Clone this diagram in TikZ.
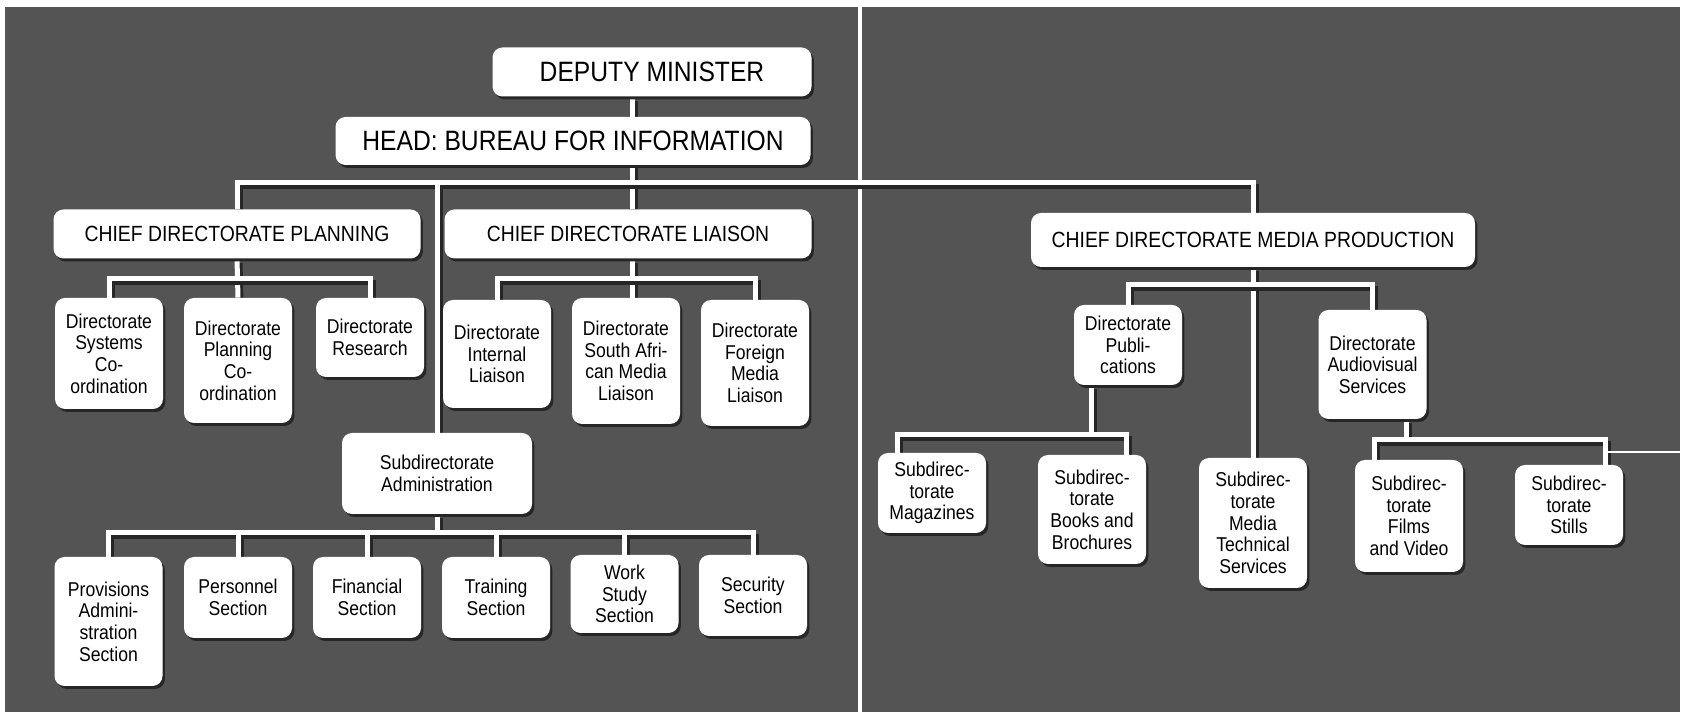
\documentclass[tikz,border=0pt]{standalone}
\usepackage{fontspec}
\setmainfont{Liberation Sans}[FakeStretch=0.88]
\usepackage{tikz}
\pgfdeclarelayer{bg}
\pgfdeclarelayer{lines}
\pgfsetlayers{bg,lines,main}
\definecolor{boardgray}{RGB}{84,84,84}

\tikzset{
  card/.style={fill=white, rounded corners=5pt, align=center, inner sep=2pt,
    preaction={fill=black!85, transform canvas={shift={(1.2pt,-1.5pt)}}}},
  topcard/.style={card, font=\fontsize{14}{16}\selectfont},
  chiefcard/.style={card, font=\fontsize{11}{13}\selectfont},
  unitcard/.style={card, minimum width=54pt, font=\fontsize{10}{10.8}\selectfont},
  link/.style={draw=white, line width=2.5pt,
    preaction={draw=black!85, line width=2.5pt, transform canvas={shift={(1.5pt,-2pt)}}}},
}

\begin{document}
\begin{tikzpicture}[x=0.5pt, y=-0.5pt]
\useasboundingbox (0,0) rectangle (1682,715);
\begin{pgfonlayer}{bg}
\fill[boardgray] (5,7) rectangle (1680,712);
\fill[white] (858,0) rectangle (862,715);
\end{pgfonlayer}

% top of the chart
\node[topcard, minimum width=159.5pt, minimum height=24.5pt](dm) at (652,72) {DEPUTY MINISTER};
\node[topcard, minimum width=237.5pt, minimum height=24pt](head) at (573,141) {HEAD: BUREAU FOR INFORMATION};

\node[chiefcard, minimum width=183.5pt, minimum height=24.5pt](cdp) at (237,234) {CHIEF DIRECTORATE PLANNING};
\node[chiefcard, minimum width=183.5pt, minimum height=24.5pt](cdl) at (628,234) {CHIEF DIRECTORATE LIAISON};
\node[chiefcard, minimum width=222pt, minimum height=27pt](cdmp) at (1253,240) {CHIEF DIRECTORATE MEDIA PRODUCTION};

% planning
\node[unitcard, minimum height=55.5pt](dsc) at (109,353.5) {Directorate\\Systems\\Co-\\ordination};
\node[unitcard, minimum height=62.5pt](dpc) at (238,360.5) {Directorate\\Planning\\Co-\\ordination};
\node[unitcard, minimum height=39.5pt](dr) at (370,337.5) {Directorate\\Research};

% liaison
\node[unitcard, minimum height=54pt](dil) at (497,354) {Directorate\\Internal\\Liaison};
\node[unitcard, minimum height=63pt](dsaml) at (626,361) {Directorate\\South Afri-\\can Media\\Liaison};
\node[unitcard, minimum height=63pt](dfml) at (755,363) {Directorate\\Foreign\\Media\\Liaison};

% administration
\node[unitcard, minimum width=95pt, minimum height=40.5pt](subadm) at (437,473.5) {Subdirectorate\\Administration};
\node[unitcard, minimum height=64.5pt](prov) at (108.5,621.5) {Provisions\\Admini-\\stration\\Section};
\node[unitcard, minimum height=40.5pt](pers) at (238,597.5) {Personnel\\Section};
\node[unitcard, minimum height=40.5pt](fin) at (367,597.5) {Financial\\Section};
\node[unitcard, minimum height=40.5pt](train) at (496,597.5) {Training\\Section};
\node[unitcard, minimum height=39pt](work) at (624.5,594) {Work\\Study\\Section};
\node[unitcard, minimum height=40.5pt](secu) at (753,595.5) {Security\\Section};

% media production
\node[unitcard, minimum height=40pt](pub) at (1128,345) {Directorate\\Publi-\\cations};
\node[unitcard, minimum height=54.5pt](av) at (1372.5,364.5) {Directorate\\Audiovisual\\Services};
\node[unitcard, minimum height=40pt](mag) at (932,493) {Subdirec-\\torate\\Magazines};
\node[unitcard, minimum height=54.5pt](bro) at (1092,509.5) {Subdirec-\\torate\\Books and\\Brochures};
\node[unitcard, minimum height=65pt](mts) at (1253,523) {Subdirec-\\torate\\Media\\Technical\\Services};
\node[unitcard, minimum height=56pt](film) at (1409,516) {Subdirec-\\torate\\Films\\and Video};
\node[unitcard, minimum height=40pt](still) at (1569,505) {Subdirec-\\torate\\Stills};

\coordinate (hub) at (632,183);
\coordinate (pbar) at (237,279);
\coordinate (lbar) at (632,279);
\coordinate (sbar) at (437,533);
\coordinate (mbar) at (1253,285);
\coordinate (pubbar) at (1091,435);
\coordinate (avfoot) at ([xshift=-10pt]av.south east);
\coordinate (avbar) at (avfoot |- 0,440);
\coordinate (rim) at (1682,452);

\begin{pgfonlayer}{lines}
\draw[link] (dm.south -| hub) -- (cdl.north -| hub);
\draw[link] (cdp.north) |- (hub) -| (cdmp.north);
\draw[link] (hub -| subadm) -- (subadm.north);
\draw[link] (cdp.south) -- (dpc.north);
\draw[link] (dsc.north) |- (pbar) -| (dr.north);
\draw[link] (cdl.south -| lbar) -- (dsaml.north -| lbar);
\draw[link] (dil.north) |- (lbar) -| (dfml.north);
\draw[link] (subadm.south) -- (sbar);
\draw[link] (prov.north) |- (sbar) -| (secu.north);
\foreach \n in {pers,fin,train,work}
  \draw[link] (\n.north) -- (\n.north |- sbar);
\draw[link] (cdmp.south) -- (mts.north);
\draw[link] (pub.north) |- (mbar) -| (av.north);
\draw[link] (pub.south -| pubbar) -- (pubbar);
\draw[link] ([xshift=10pt]mag.north west) |- (pubbar) -| ([xshift=-10pt]bro.north east);
\draw[link] (avfoot) -- (avbar);
\draw[link] ([xshift=10pt]film.north west) |- (avbar) -| ([xshift=-9pt]still.north east);
\draw[white, line width=0.7pt] ([xshift=-9pt]still.north east |- rim) -- (rim);
\end{pgfonlayer}
\end{tikzpicture}
\end{document}
